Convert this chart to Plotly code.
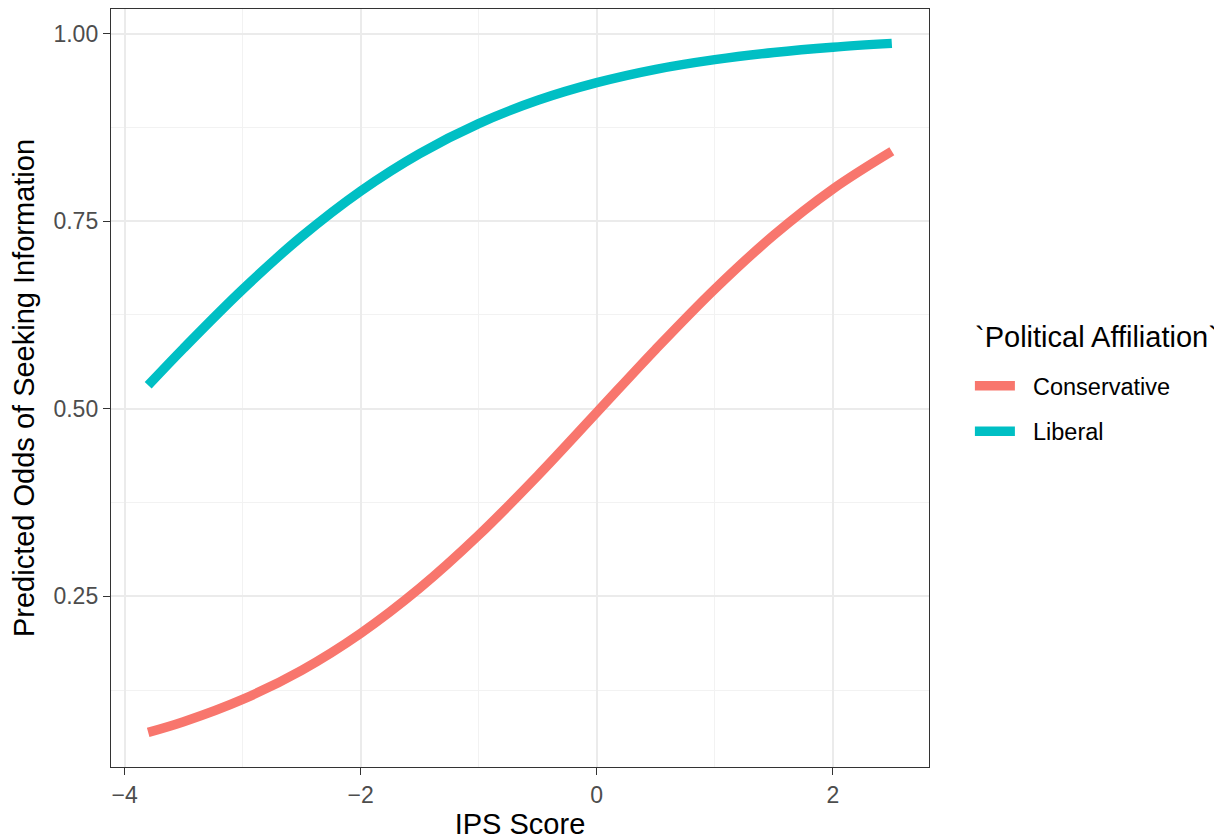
import plotly.graph_objects as go

ips_score = [-3.8, -3.5, -3.0, -2.5, -2.0, -1.5, -1.0, -0.5, 0.0, 0.5, 1.0, 1.5, 2.0, 2.5]
conservative = [0.0687, 0.0829, 0.1127, 0.1515, 0.2008, 0.2610, 0.3316, 0.4108,
                0.4950, 0.5794, 0.6595, 0.7314, 0.7928, 0.8432]
liberal = [0.5313, 0.5807, 0.6590, 0.7296, 0.7902, 0.8402, 0.8801, 0.9111,
           0.9346, 0.9524, 0.9653, 0.9749, 0.9819, 0.9870]

series = [("Conservative", conservative, "#F8766D"), ("Liberal", liberal, "#00BFC4")]
legend_title = "`Political Affiliation`"

FONT = "Liberation Sans, Arial, sans-serif"
NB = "\u00a0\u00a0"
TITLE_SIZE = 29
TICK_SIZE = 23
LEG_SIZE = 23.5

fig = go.Figure()
for name, vals, col in series:
    fig.add_trace(go.Scatter(
        x=ips_score, y=vals, name=NB + name, mode="lines",
        line=dict(color=col, width=9.5, shape="spline", smoothing=1.0),
        legendgroup=name,
    ))

axis_common = dict(
    showline=True, mirror=True, linecolor="#333333", linewidth=1.4,
    showgrid=True, gridcolor="#EBEBEB", gridwidth=1.8,
    ticks="outside", ticklen=7, tickwidth=1.4, tickcolor="#333333",
    tickfont=dict(family=FONT, size=TICK_SIZE, color="#4D4D4D"),
    zeroline=False,
)

fig.update_xaxes(
    **axis_common,
    range=[-4.115, 2.815], tick0=0, dtick=2,
    minor=dict(dtick=1, tick0=0, showgrid=True, gridcolor="#F2F2F2", gridwidth=1, ticks=""),
    title=dict(text="IPS Score", font=dict(family=FONT, size=TITLE_SIZE, color="black"), standoff=12),
)
fig.update_yaxes(
    **axis_common,
    range=[0.0226, 1.0328], tick0=0, dtick=0.25, tickformat=".2f",
    minor=dict(dtick=0.125, tick0=0, showgrid=True, gridcolor="#F2F2F2", gridwidth=1, ticks=""),
    title=dict(text="Predicted Odds of Seeking Information",
               font=dict(family=FONT, size=TITLE_SIZE, color="black"), standoff=10),
)

fig.add_annotation(
    text=legend_title, xref="paper", yref="paper",
    x=(965 - 103) / 818, y=(761 - 329) / 761, xanchor="left", yanchor="middle",
    showarrow=False, font=dict(family=FONT, size=TITLE_SIZE, color="black"),
)

fig.update_layout(
    width=1214, height=832,
    margin=dict(l=103, r=293, t=0, b=71),
    paper_bgcolor="white", plot_bgcolor="white",
    font=dict(family=FONT),
    legend=dict(
        font=dict(family=FONT, size=LEG_SIZE, color="black"),
        x=1.05, xanchor="left", y=0.4724, yanchor="middle",
        tracegroupgap=12, itemwidth=40,
        bgcolor="rgba(0,0,0,0)",
    ),
)

fig.write_html("out.html")
